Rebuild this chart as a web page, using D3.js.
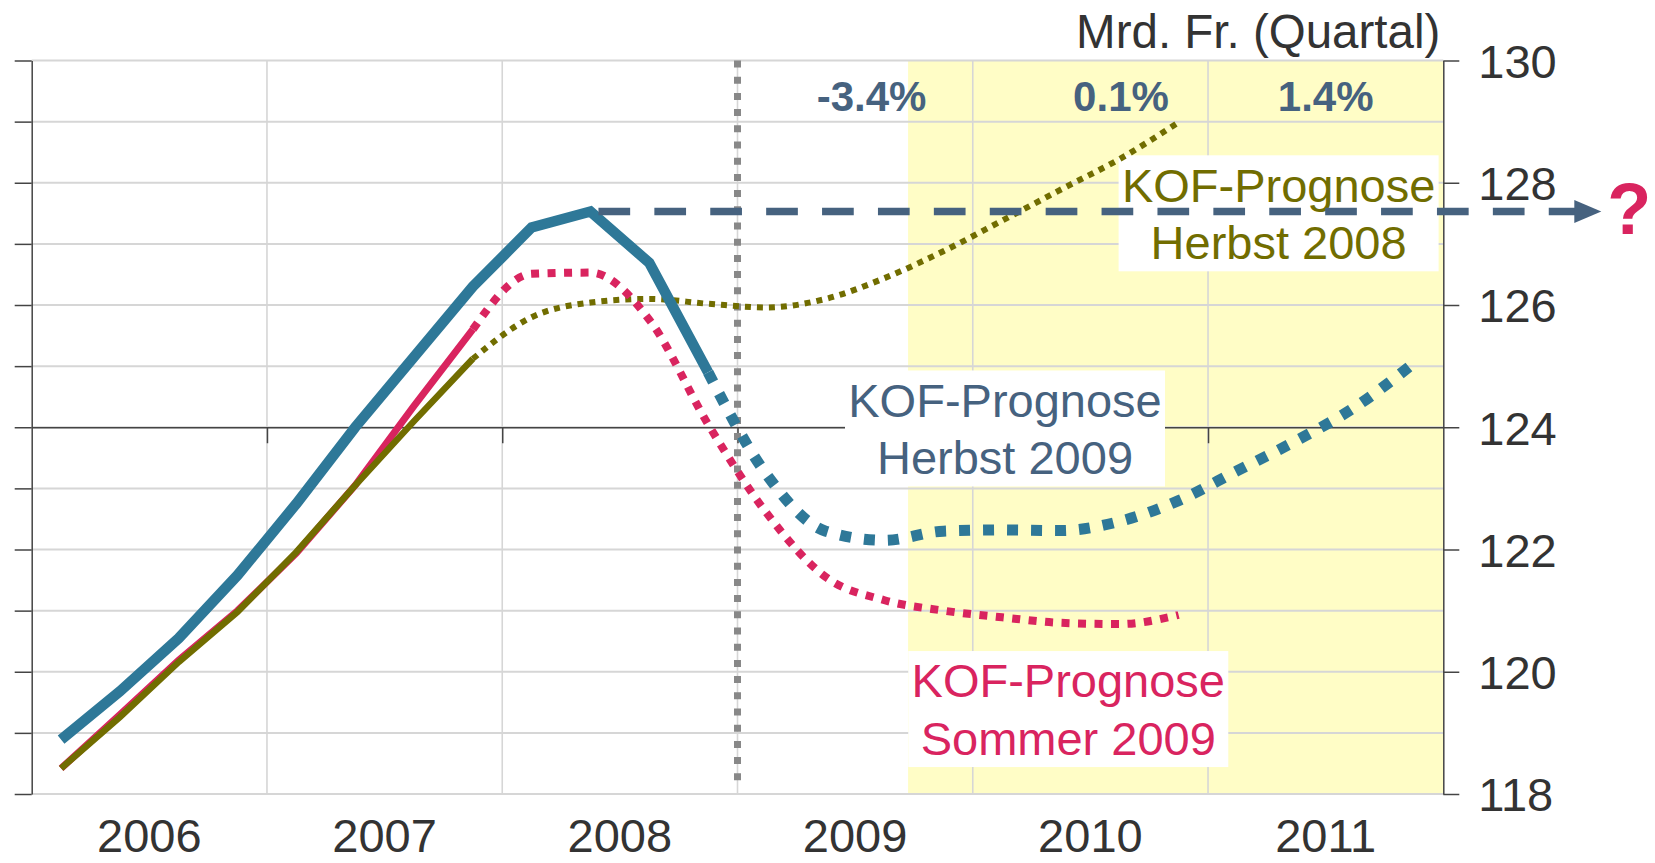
<!DOCTYPE html>
<html><head><meta charset="utf-8">
<script src="https://cdn.jsdelivr.net/npm/d3@7"></script>
<style>
body{margin:0;background:#fff}
svg{display:block}
text{font-family:"Liberation Sans",Arial,sans-serif}
</style>
</head><body>
<svg id="chart" width="1655" height="863"></svg>
<script>
// ---------- data ----------
const quarters = ["2006Q1","2006Q2","2006Q3","2006Q4","2007Q1","2007Q2","2007Q3","2007Q4",
                  "2008Q1","2008Q2","2008Q3","2008Q4","2009Q1","2009Q2","2009Q3","2009Q4",
                  "2010Q1","2010Q2","2010Q3","2010Q4","2011Q1","2011Q2","2011Q3","2011Q4"];
// real GDP, bn CHF per quarter (latest vintage, 2006Q1–2008Q4)
const actualGDP = [118.89, 119.68, 120.55, 121.58, 122.75, 124.0, 125.15, 126.3, 127.27, 127.53, 126.69, 124.9];
// KOF forecast autumn 2009 (2008Q4–2011Q4)
const herbst2009Fc = [124.9, 123.22, 122.3, 122.15, 122.3, 122.32, 122.31, 122.46, 122.8, 123.29, 123.78, 124.33, 125.05];
// KOF forecast summer 2009: history 2006Q1–2007Q4, forecast 2007Q4–2010Q4
const sommer2009Hist = [118.42, 119.3, 120.19, 121.0, 121.94, 123.05, 124.35, 125.6];
const sommer2009Fc = [125.6, 126.51, 126.53, 125.76, 124.05, 122.59, 121.55, 121.17, 121.0, 120.89, 120.8, 120.78, 120.93];
// KOF forecast autumn 2008: history 2006Q1–2007Q4, forecast 2007Q4–2010Q4
const herbst2008Hist = [118.42, 119.26, 120.16, 120.98, 121.96, 123.05, 124.1, 125.12];
const herbst2008Fc = [125.12, 125.8, 126.04, 126.1, 126.02, 125.96, 126.1, 126.44, 126.88, 127.38, 127.89, 128.39, 128.99];

const years = [2006, 2007, 2008, 2009, 2010, 2011];
const yTickValues = [118, 120, 122, 124, 126, 128, 130];
const yGridValues = [118, 119, 120, 121, 122, 123, 124, 125, 126, 127, 128, 129, 130];
const growthLabels = ["-3.4%", "0.1%", "1.4%"];
const seriesLabels = [["KOF-Prognose", "Herbst 2008"], ["KOF-Prognose", "Herbst 2009"], ["KOF-Prognose", "Sommer 2009"]];
const unitLabel = "Mrd. Fr. (Quartal)";

// ---------- layout / style ----------
const plot = {left: 31.7, right: 1443.3, top: 60.5, bottom: 794};
const C = {blue: "#2e7898", slate: "#46627f", olive: "#716d00", pink: "#d9245f",
           grid: "#d6d6d6", axis: "#444", text: "#333", yellow: "#fffdc6", gray: "#888"};
const growthPos = [[2009.57, 129.18], [2010.63, 129.18], [2011.5, 129.18]];
const labelPos = [[2011.30, 127.5], [2010.137, 123.98], [2010.406, 119.39]];
const labelColor = [C.olive, C.slate, C.pink];
const shadeFrom = 2009.725;
const cutYear = 2009;

const svg = d3.select("#chart");
const x = d3.scaleLinear().domain([2006, 2012]).range([plot.left, plot.right]);
const y = d3.scaleLinear().domain([118, 130]).range([plot.bottom, plot.top]);
const qx = i => x(2006 + (i + 0.5) / 4);
const qi = q => quarters.indexOf(q);

// shaded forecast region
svg.append("rect")
  .attr("x", x(shadeFrom)).attr("y", y(130))
  .attr("width", x(2012) - x(shadeFrom)).attr("height", y(118) - y(130))
  .attr("fill", C.yellow);

// gridlines
svg.append("g").selectAll("line").data(yGridValues).join("line")
  .attr("x1", x(2006)).attr("x2", x(2012))
  .attr("y1", d => y(d)).attr("y2", d => y(d))
  .attr("stroke", C.grid).attr("stroke-width", 2);
svg.append("g").selectAll("line").data(years.slice(1)).join("line")
  .attr("x1", d => x(d)).attr("x2", d => x(d))
  .attr("y1", y(130)).attr("y2", y(118))
  .attr("stroke", C.grid).attr("stroke-width", 1.6);

// x axis at 124
const xAxis = svg.append("g").attr("transform", `translate(0,${y(124)})`)
  .call(d3.axisBottom(x).tickValues(years.slice(1)).tickSize(16).tickSizeOuter(0).tickFormat(""));
xAxis.selectAll("path,line").attr("stroke", C.axis).attr("stroke-width", 1.5);

// left axis
const lAxis = svg.append("g").attr("transform", `translate(${x(2006)},0)`)
  .call(d3.axisLeft(y).tickValues(yGridValues).tickSize(17).tickSizeOuter(0).tickFormat(""));
lAxis.selectAll("path,line").attr("stroke", C.axis).attr("stroke-width", 1.5);

// right axis
const rAxis = svg.append("g").attr("transform", `translate(${x(2012)},0)`)
  .call(d3.axisRight(y).tickValues(yTickValues).tickSize(16).tickSizeOuter(0).tickPadding(19).tickFormat(d3.format("d")));
rAxis.selectAll("path,line").attr("stroke", C.axis).attr("stroke-width", 1.5);
rAxis.selectAll("text").attr("font-size", 47).attr("fill", C.text)
  .attr("font-family", "Liberation Sans, Arial, sans-serif").attr("dy", "0.36em");

// unit label
svg.append("text").attr("x", x(2012) - 3).attr("y", 48)
  .attr("text-anchor", "end").attr("font-size", 47.5).attr("fill", C.text).text(unitLabel);

// year labels
svg.append("g").selectAll("text").data(years).join("text")
  .attr("x", d => x(d + 0.5)).attr("y", 852)
  .attr("text-anchor", "middle").attr("font-size", 47).attr("fill", C.text).text(d => d);

// vertical dotted cut line
svg.append("line")
  .attr("x1", x(cutYear)).attr("x2", x(cutYear)).attr("y1", y(130)).attr("y2", y(118) - 8)
  .attr("stroke", C.gray).attr("stroke-width", 7).attr("stroke-dasharray", "7,9.2");

// label boxes
const lab = svg.append("g").selectAll("g").data(seriesLabels).join("g")
  .attr("transform", (d, i) => `translate(${x(labelPos[i][0])},${y(labelPos[i][1])})`);
lab.append("rect").attr("x", -160).attr("y", -58).attr("width", 320).attr("height", 116).attr("fill", "#fff");
lab.each(function(d, i) {
  const g = d3.select(this);
  d.forEach((line, k) => {
    g.append("text").attr("x", 0).attr("y", k === 0 ? -11.8 : 45.8)
      .attr("text-anchor", "middle").attr("font-size", 47).attr("fill", labelColor[i]).text(line);
  });
});

// growth labels
svg.append("g").selectAll("text").data(growthLabels).join("text")
  .attr("x", (d, i) => x(growthPos[i][0])).attr("y", (d, i) => y(growthPos[i][1]))
  .attr("text-anchor", "middle").attr("font-size", 42).attr("font-weight", "bold")
  .attr("fill", C.slate).text(d => d);

// series
const lin = d3.line().x(d => qx(d.i)).y(d => y(d.v));
const smooth = d3.line().x(d => qx(d.i)).y(d => y(d.v)).curve(d3.curveMonotoneX);
const pts = (arr, start) => arr.map((v, k) => ({i: qi(start) + k, v}));

function draw(gen, data, color, width, dash) {
  const p = svg.append("path").attr("d", gen(data)).attr("fill", "none")
    .attr("stroke", color).attr("stroke-width", width).attr("stroke-linejoin", "miter");
  if (dash) p.attr("stroke-dasharray", dash);
  return p;
}
draw(lin, pts(sommer2009Hist, "2006Q1"), C.pink, 7);
draw(lin, pts(herbst2008Hist, "2006Q1"), C.olive, 6.5);
draw(smooth, pts(herbst2008Fc, "2007Q4"), C.olive, 6, "6,6");
draw(smooth, pts(sommer2009Fc, "2007Q4"), C.pink, 8, "8,8.5");
draw(lin, pts(actualGDP, "2006Q1"), C.blue, 10.5);
draw(smooth, pts(herbst2009Fc, "2008Q4"), C.blue, 11, "11,13");

// dashed "?" projection from the peak
const peakIdx = actualGDP.indexOf(d3.max(actualGDP));
const peakV = actualGDP[peakIdx];
const lineEnd = x(2012) + 133;
svg.append("line")
  .attr("x1", qx(peakIdx) + 8).attr("x2", lineEnd)
  .attr("y1", y(peakV)).attr("y2", y(peakV))
  .attr("stroke", C.slate).attr("stroke-width", 7.5).attr("stroke-dasharray", "31.7,24.2");
svg.append("path")
  .attr("d", `M${lineEnd - 2},${y(peakV) - 11.5}L${lineEnd + 25},${y(peakV)}L${lineEnd - 2},${y(peakV) + 11.5}Z`)
  .attr("fill", C.slate);
svg.append("text").attr("x", lineEnd + 53).attr("y", y(peakV) + 23)
  .attr("text-anchor", "middle").attr("font-size", 72).attr("font-weight", "bold")
  .attr("fill", C.pink).text("?");
</script>
</body></html>
